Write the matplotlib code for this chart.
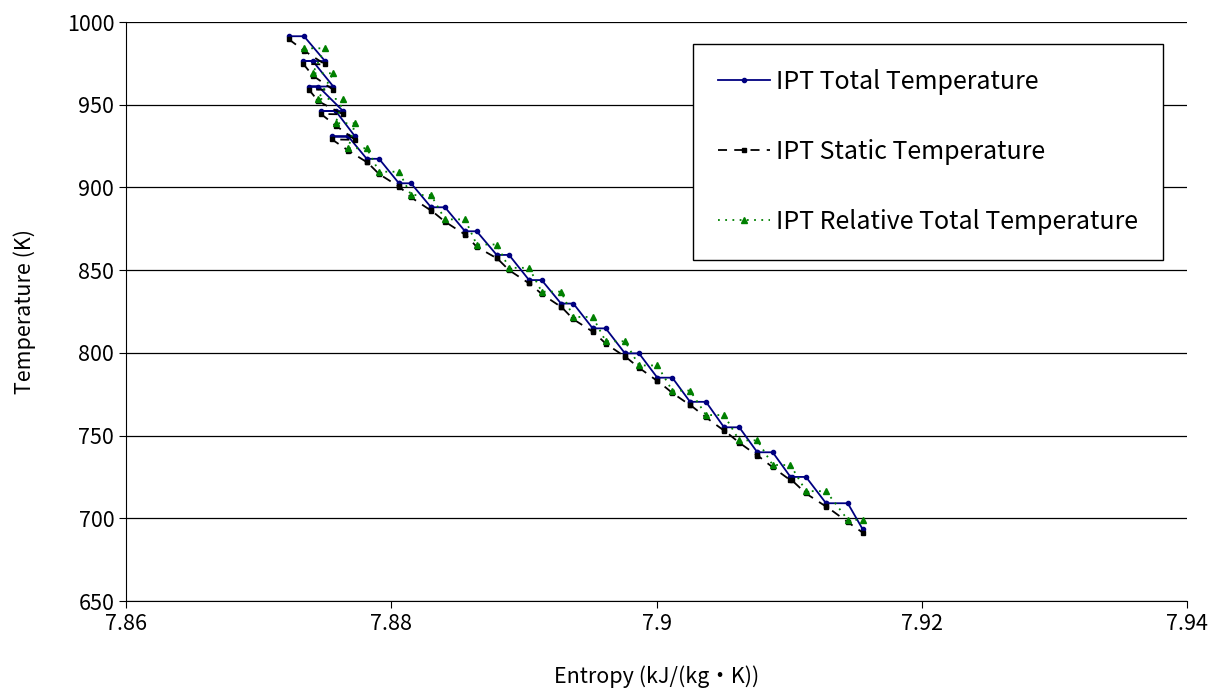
import matplotlib
matplotlib.use('Agg')
import matplotlib.pyplot as plt

plt.rcParams['font.family'] = ['Noto Sans CJK JP', 'DejaVu Sans']

# entropy at stator inlet (a), stator exit (b), rotor exit (c) for each stage
s_a = [7.87227, 7.87337, 7.87378, 7.87470, 7.87553, 7.87815, 7.88058, 7.88300, 7.88556, 7.88795,
       7.89039, 7.89280, 7.89519, 7.89762, 7.90006, 7.90253, 7.90509, 7.90760, 7.91018, 7.91278]
s_b = [7.87342, 7.87408, 7.87450, 7.87581, 7.87676, 7.87908, 7.88149, 7.88405, 7.88644, 7.88888,
       7.89134, 7.89373, 7.89617, 7.89868, 7.90119, 7.90373, 7.90624, 7.90876, 7.91127, 7.91442]
s_c = [7.87500, 7.87563, 7.87636, 7.87727, 7.87815, 7.88058, 7.88300, 7.88556, 7.88795, 7.89039,
       7.89280, 7.89519, 7.89762, 7.90006, 7.90253, 7.90509, 7.90760, 7.91010, 7.91278, 7.91555]

# total temperature at stage inlet / outlet
T_in = [991.4, 976.4, 961.0, 946.2, 930.8, 917.3, 902.5, 888.0, 873.5, 859.2,
        844.0, 829.8, 814.8, 799.7, 785.0, 770.4, 755.0, 739.9, 725.0, 709.1]
T_out = [976.4, 961.0, 946.2, 930.8, 917.3, 902.5, 888.0, 873.5, 859.2, 844.0,
         829.8, 814.8, 799.7, 785.0, 770.4, 755.0, 739.9, 725.0, 709.1, 693.3]

# static temperature at a, b, c
Ts_a = [989.6, 974.6, 959.2, 944.4, 929.0, 915.5, 900.7, 886.2, 871.7, 857.4,
        842.2, 828.0, 813.0, 797.9, 783.2, 768.6, 753.2, 738.1, 723.2, 707.3]
Ts_b = [982.7, 967.6, 952.1, 937.4, 922.3, 908.1, 894.0, 879.3, 864.1, 850.0,
        835.6, 820.3, 805.6, 791.0, 775.8, 761.0, 745.7, 730.8, 715.0, 697.7]
Ts_c = [974.4, 959.0, 944.2, 928.8, 915.3, 900.5, 886.0, 871.5, 857.2, 842.0,
        827.8, 812.8, 797.7, 783.0, 768.4, 753.0, 737.9, 723.0, 707.1, 691.3]

# relative total temperature through the rotor (b -> c)
T_rel = [984.1, 969.0, 953.5, 938.8, 923.7, 909.5, 895.4, 880.7, 865.5, 851.4,
         837.0, 821.7, 807.0, 792.4, 777.2, 762.4, 747.1, 732.2, 716.4, 699.1]

# build the plotted sequences
tot_s, tot_T, st_s, st_T, rel_s, rel_T = [], [], [], [], [], []
for k in range(len(s_a)):
    tot_s += [s_a[k], s_b[k], s_c[k]]
    tot_T += [T_in[k], T_in[k], T_out[k]]
    st_s += [s_a[k], s_b[k], s_c[k]]
    st_T += [Ts_a[k], Ts_b[k], Ts_c[k]]
    rel_s += [s_b[k], s_c[k]]
    rel_T += [T_rel[k], T_rel[k]]

fig = plt.figure(figsize=(12.26, 6.92), dpi=100)
ax = fig.add_axes([0.1028, 0.1315, 0.8654, 0.8367])

ax.plot(tot_s, tot_T, color='#000080', lw=1.3, marker='o', ms=3,
        label='IPT Total Temperature', zorder=3)
ax.plot(st_s, st_T, color='black', lw=1.3, ls=(0, (5, 4)), marker='s', ms=3,
        label='IPT Static Temperature', zorder=4)
ax.plot(rel_s, rel_T, color='#008000', lw=1.3, ls=(0, (1, 3)), marker='^', ms=4,
        label='IPT Relative Total Temperature', zorder=5)

ax.set_xlim(7.86, 7.94)
ax.set_ylim(650, 1000)
ax.set_xticks([7.86, 7.88, 7.9, 7.92, 7.94])
ax.set_xticklabels(['7.86', '7.88', '7.9', '7.92', '7.94'])
ax.set_yticks(range(650, 1001, 50))
ax.yaxis.grid(True, color='black', lw=0.9)
ax.set_axisbelow(True)
for side in ['top', 'right']:
    ax.spines[side].set_visible(False)
ax.tick_params(labelsize=15.5, direction='out', length=5)
ax.set_xlabel('Entropy (kJ/(kg・K))', fontsize=15.5, labelpad=22)
ax.set_ylabel('Temperature (K)', fontsize=15.5, labelpad=22)

leg = ax.legend(loc='upper left', bbox_to_anchor=(0.534, 0.962), fontsize=18,
                frameon=True, fancybox=False, edgecolor='black', framealpha=1,
                borderpad=1.0, labelspacing=1.75, handlelength=2.1, handletextpad=0.25,
                borderaxespad=0)
leg.get_frame().set_linewidth(1.0)

fig.savefig('out.png', dpi=100)
